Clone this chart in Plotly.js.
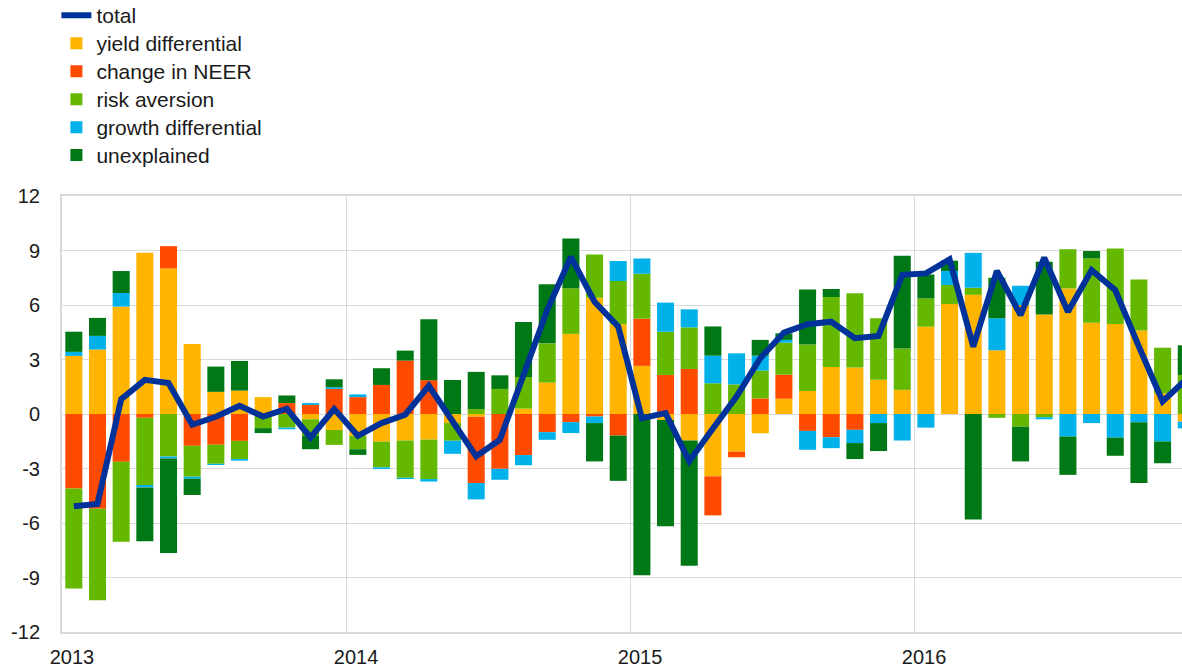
<!DOCTYPE html>
<html>
<head>
<meta charset="utf-8">
<script src="https://cdn.plot.ly/plotly-3.0.1.min.js"></script>
<style>
  html, body { margin: 0; padding: 0; background: #fff; }
  #chart { width: 1182px; height: 668px; }
</style>
</head>
<body>
<div id="chart"></div>
<script>
// Months (categories), Jan 2013 – Dec 2016
const months = [
  "2013-01","2013-02","2013-03","2013-04","2013-05","2013-06","2013-07","2013-08","2013-09","2013-10","2013-11","2013-12",
  "2014-01","2014-02","2014-03","2014-04","2014-05","2014-06","2014-07","2014-08","2014-09","2014-10","2014-11","2014-12",
  "2015-01","2015-02","2015-03","2015-04","2015-05","2015-06","2015-07","2015-08","2015-09","2015-10","2015-11","2015-12",
  "2016-01","2016-02","2016-03","2016-04","2016-05","2016-06","2016-07","2016-08","2016-09","2016-10","2016-11","2016-12"
];

const seriesNames = ["total", "yield differential", "change in NEER", "risk aversion", "growth differential", "unexplained"];

const yieldDifferential = [
  3.20, 3.55, 5.91, 8.88, 8.01, 3.85, 1.22, 1.29, 0.93, 0.00, -0.29, -0.88,
  -1.20, -1.52, -1.46, -1.41, -0.50, -0.15, 0.00, 0.30, 1.73, 4.41, 6.40, 4.94,
  2.65, -0.33, -1.46, -3.43, -2.07, -1.06, 0.84, 1.27, 2.59, 2.56, 1.88, 1.33,
  4.81, 6.05, 6.56, 3.51, 6.00, 5.48, 6.91, 5.02, 4.95, 4.60, 1.14, -0.42
];

const changeInNeer = [
  -4.10, -5.21, -2.63, -0.21, 1.23, -1.75, -1.69, -1.48, 0.00, 0.60, 0.50, 1.38,
  0.93, 1.60, 2.94, 1.86, 0.00, -3.65, -3.02, -2.26, -1.00, -0.45, -0.14, -1.19,
  2.60, 2.15, 2.48, -2.15, -0.31, 0.86, 1.33, -0.93, -1.28, -0.87, 0.00, 0.00,
  0.00, 0.00, 0.00, 0.00, 0.00, 0.00, 0.00, 0.00, 0.00, 0.00, 0.00, 0.00
];

const riskAversion = [
  -5.50, -5.04, -4.40, -3.70, -2.34, -1.70, -1.05, -1.00, -0.78, -0.75, -0.90, -0.82,
  -0.74, -1.42, -2.05, -2.17, -0.97, 0.27, 1.38, 1.74, 2.16, 2.51, 2.38, 2.38,
  2.47, 2.38, 2.29, 1.69, 1.63, 1.53, 1.76, 2.55, 3.85, 4.08, 3.39, 2.27,
  1.55, 1.05, 0.39, -0.21, -0.70, -0.18, 2.16, 3.55, 4.16, 2.80, 2.51, 2.15
];

const growthDifferential = [
  0.22, 0.75, 0.75, -0.13, -0.11, -0.11, -0.07, -0.09, 0.00, -0.09, 0.10, 0.09,
  0.15, -0.09, -0.07, -0.14, -0.72, -0.90, -0.60, -0.56, -0.42, -0.60, -0.36, 1.10,
  0.84, 1.60, 0.99, 1.52, 1.71, 0.82, 0.15, -1.04, -0.60, -0.73, -0.50, -1.46,
  -0.75, 0.77, 1.92, 1.76, 1.06, -0.11, -1.24, -0.50, -1.30, -0.45, -1.51, -0.37
];

const unexplained = [
  1.11, 0.99, 1.21, -2.96, -5.20, -0.90, 1.39, 1.63, -0.27, 0.42, -0.75, 0.44,
  -0.31, 0.92, 0.55, 3.35, 1.87, 2.05, 0.75, 3.03, 3.25, 2.74, -2.11, -2.49,
  -8.87, -5.85, -6.89, 1.61, 0.00, 0.87, 0.36, 3.04, 0.44, -0.88, -1.54, 5.11,
  1.32, 0.57, -5.81, 2.23, -1.91, 2.90, -2.11, 0.40, -1.00, -3.35, -1.20, 1.63
];

const total = [
  -5.08, -4.95, 0.82, 1.88, 1.70, -0.59, -0.15, 0.45, -0.14, 0.29, -1.29, 0.27,
  -1.20, -0.50, -0.04, 1.55, -0.40, -2.33, -1.42, 2.20, 5.72, 8.65, 6.18, 4.81,
  -0.23, 0.05, -2.60, -0.80, 0.96, 3.07, 4.48, 4.94, 5.08, 4.17, 4.30, 7.66,
  7.74, 8.51, 3.71, 7.88, 5.45, 8.60, 5.63, 7.92, 6.82, 3.71, 0.69, 1.90
];

const yearLabels = ["2013", "2014", "2015", "2016"];
const yTickValues = [-12, -9, -6, -3, 0, 3, 6, 9, 12];
const yTickLabels = ["-12", "-9", "-6", "-3", "0", "3", "6", "9", "12"];

// positions: month index centred in its month slot
const xPos = months.map((m, i) => i + 0.5);
const yearTickPos = yearLabels.map(y => months.indexOf(y + "-01"));

const FONT = 'Arial, "Liberation Sans", sans-serif';
const colors = {
  total: "#003299",
  yield: "#FFB400",
  neer: "#FF4B00",
  risk: "#65B800",
  growth: "#00B1EA",
  unexpl: "#007816"
};

// legend label: slightly larger glyphs than the legend row spacing font
function legendLabel(s) {
  return '<span style="font-size:21px">' + s + '</span>';
}

function barTrace(name, y, color) {
  return {
    type: "bar", name: legendLabel(name), x: xPos, y: y,
    marker: { color: color, line: { width: 0 } },
    hoverinfo: "skip"
  };
}

const data = [
  {
    type: "scatter", mode: "lines", name: legendLabel(seriesNames[0]), x: xPos, y: total,
    line: { color: colors.total, width: 6, shape: "linear" },
    hoverinfo: "skip"
  },
  barTrace(seriesNames[1], yieldDifferential, colors.yield),
  barTrace(seriesNames[2], changeInNeer, colors.neer),
  barTrace(seriesNames[3], riskAversion, colors.risk),
  barTrace(seriesNames[4], growthDifferential, colors.growth),
  barTrace(seriesNames[5], unexplained, colors.unexpl)
];

const layout = {
  width: 1182, height: 668,
  margin: { l: 62, r: 0, t: 196, b: 36, autoexpand: false },
  paper_bgcolor: "#ffffff", plot_bgcolor: "#ffffff",
  font: { family: FONT, size: 20, color: "#1a1a1a" },
  barmode: "relative",
  bargap: 0.28,
  showlegend: true,
  legend: {
    x: -0.005, xanchor: "left", y: 1.458, yanchor: "top",
    orientation: "v", traceorder: "normal",
    font: { family: FONT, size: 19.2, color: "#1a1a1a" },
    bgcolor: "rgba(0,0,0,0)", tracegroupgap: 0, itemclick: false
  },
  xaxis: {
    type: "linear", range: [0, 47.32],
    tickmode: "array", tickvals: yearTickPos, ticktext: yearLabels,
    ticks: "", ticklabelshift: 10, ticklabelstandoff: 6,
    showgrid: true, gridcolor: "#d9d9d9", gridwidth: 1,
    zeroline: false,
    showline: true, linecolor: "#d9d9d9", linewidth: 2, mirror: true,
    tickfont: { family: FONT, size: 20, color: "#1a1a1a" },
    fixedrange: true
  },
  yaxis: {
    range: [-12, 12],
    tickmode: "array", tickvals: yTickValues, ticktext: yTickLabels,
    ticks: "", ticklabelstandoff: 16,
    showgrid: true, gridcolor: "#d9d9d9", gridwidth: 1,
    zeroline: false,
    showline: true, linecolor: "#d9d9d9", linewidth: 2,
    tickfont: { family: FONT, size: 20, color: "#1a1a1a" },
    fixedrange: true
  }
};

Plotly.newPlot("chart", data, layout, { staticPlot: true, displayModeBar: false });
</script>
</body>
</html>
